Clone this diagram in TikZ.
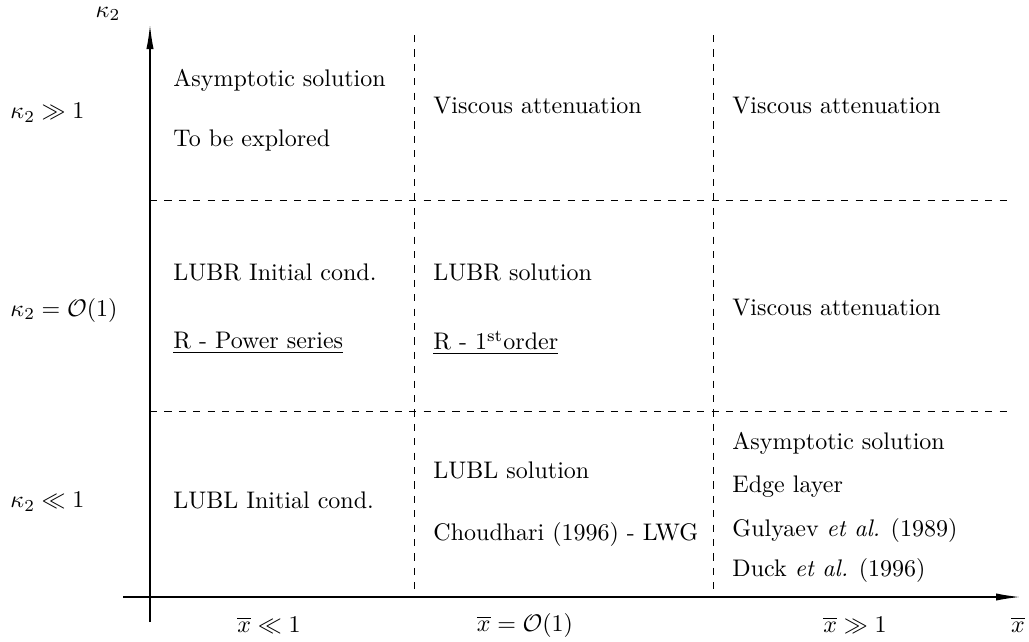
\documentclass[tikz,border=0pt]{standalone}
\usetikzlibrary{arrows.meta}
\begin{document}
\begin{tikzpicture}[x=0.41667pt,y=-0.41667pt,
  font=\fontsize{10}{12}\selectfont,
  lbl/.style={anchor=west, inner sep=0pt},
  mlbl/.style={inner sep=0pt},
  grid/.style={dashed, line width=0.4pt},
  axis/.style={line width=0.5pt, -{Latex[length=10pt,width=3pt]}}]
\useasboundingbox (0,0) rectangle (1029,641);
% axes
\coordinate (yb) at (150,622);
\coordinate (yt) at (150,25);
\coordinate (xl) at (123,597);
\coordinate (xr) at (1020,597);
\draw[axis] (yb) -- (yt);
\draw[axis] (xl) -- (xr);
% grid
\coordinate (v1t) at (414,35);
\coordinate (v1b) at (414,597);
\coordinate (v2t) at (713,35);
\coordinate (v2b) at (713,597);
\coordinate (h1l) at (150,200);
\coordinate (h1r) at (1012,200);
\coordinate (h2l) at (150,411);
\coordinate (h2r) at (1012,411);
\draw[grid] (v1t) -- (v1b);
\draw[grid] (v2t) -- (v2b);
\draw[grid] (h1l) -- (h1r);
\draw[grid] (h2l) -- (h2r);
% axis labels
\node[mlbl] (ky) at (108,14) {$\kappa_2$};
\node[lbl] (k1) at (10,113) {$\kappa_2 \gg 1$};
\node[lbl] (k2) at (10,310) {$\kappa_2 = \mathcal{O}(1)$};
\node[lbl] (k3) at (10,502) {$\kappa_2 \ll 1$};
\node[mlbl] (x1) at (269,625) {$\overline{x} \ll 1$};
\node[mlbl] (x2) at (525,625) {$\overline{x} = \mathcal{O}(1)$};
\node[mlbl] (x3) at (855,625) {$\overline{x} \gg 1$};
\node[mlbl] (xx) at (1018,625) {$\overline{x}$};
% row 1
\node[lbl] (a11) at (173,80) {Asymptotic solution};
\node[lbl] (a12) at (173,140) {To be explored};
\node[lbl] (a2) at (433,106) {Viscous attenuation};
\node[lbl] (a3) at (732,106) {Viscous attenuation};
% row 2
\node[lbl] (b11) at (173,272) {LUBR Initial cond.};
\node[lbl] (b12) at (173,343) {\underline{R - Power series}};
\node[lbl] (b21) at (433,272) {LUBR solution};
\node[lbl] (b22) at (433,343) {\underline{R - 1\textsuperscript{st}order}};
\node[lbl] (b3) at (732,308) {Viscous attenuation};
% row 3
\node[lbl] (c1) at (173,500) {LUBL Initial cond.};
\node[lbl] (c21) at (433,470) {LUBL solution};
\node[lbl] (c22) at (433,534) {Choudhari (1996) - LWG};
\node[lbl] (c31) at (732,443) {Asymptotic solution};
\node[lbl] (c32) at (732,487) {Edge layer};
\node[lbl] (c33) at (732,530) {Gulyaev \emph{et al.} (1989)};
\node[lbl] (c34) at (732,570) {Duck \emph{et al.} (1996)};
\end{tikzpicture}
\end{document}
